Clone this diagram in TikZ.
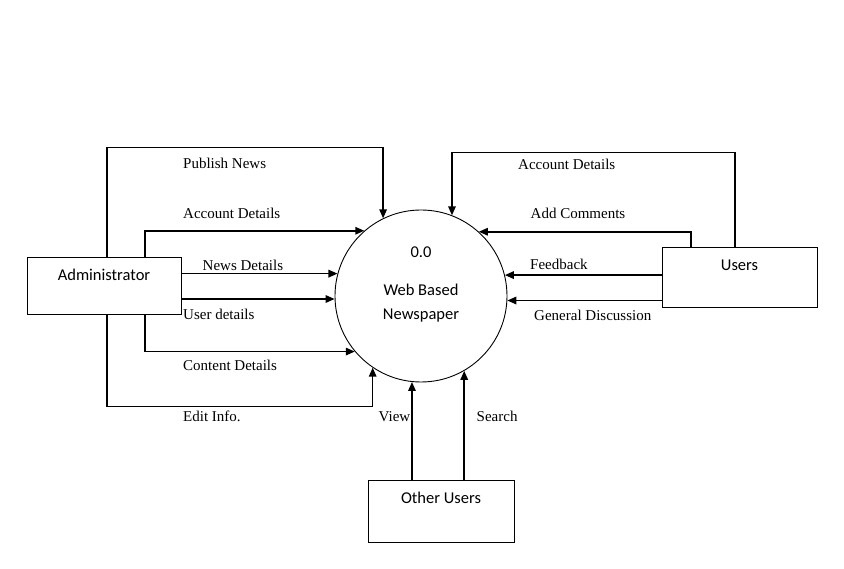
\documentclass[tikz,border=0pt]{standalone}
\usepackage{fontspec}
\setmainfont{Liberation Serif}
\newfontfamily\carlito{Carlito}
\usetikzlibrary{arrows.meta}
\tikzset{
  entity/.style={draw, line width=0.9pt, inner sep=0pt, align=center,
    font=\carlito\fontsize{16.5}{20}\selectfont},
  procbubble/.style={draw, circle, line width=0.9pt, inner sep=0pt, minimum size=172pt,
    align=center, font=\carlito\fontsize{16.5}{24}\selectfont},
  flow/.style={line width=1.6pt, -{Triangle[length=9pt,width=7.5pt]}},
  flowlabel/.style={anchor=base west, inner sep=0pt, font=\fontsize{15}{18}\selectfont},
}
\begin{document}
\begin{tikzpicture}[x=1pt,y=-1pt]
\useasboundingbox (0,0) rectangle (844,569);
% entities
\node[entity, minimum width=154pt, minimum height=57pt, text depth=22pt] (admin) at (104,285.5) {Administrator};
\node[entity, minimum width=155pt, minimum height=60pt, text depth=24pt] (users) at (739.5,277) {Users};
\node[entity, minimum width=146pt, minimum height=62pt, text depth=26pt] (other) at (441,511) {Other Users};
% process
\node[procbubble, text depth=25pt] (p) at (421,296) {0.0\\[14pt]Web Based\\Newspaper};
% administrator flows
\draw[flow] ([xshift=3pt]admin.north) -- ++(0,-109) -| (p.116.2);
\draw[flow] ([xshift=41pt]admin.north) |- (p.131.9);
\draw[flow] (admin.east |- p.165.2) -- (p.165.2);
\draw[flow] (admin.east |- p.182.7) -- (p.182.7);
\draw[flow] ([xshift=41pt]admin.south) |- (p.220.6);
\draw[flow] ([xshift=3pt]admin.south) -- ++(0,92) -| (p.236.1);
% users flows
\draw[flow] ([xshift=-4.5pt]users.north) -- ++(0,-94) -| (p.69.6);
\draw[flow] ([xshift=-48.5pt]users.north) |- (p.48.1);
\draw[flow] (users.west |- p.14.8) -- (p.14.8);
\draw[flow] (users.west |- p.357.3) -- (p.357.3);
% other users flows
\draw[flow] (other.north -| p.264) -- (p.264);
\draw[flow] (other.north -| p.300.8) -- (p.300.8);
% labels
\node[flowlabel] (lpub) at (183,169) {Publish News};
\node[flowlabel] (lacc) at (183,219) {Account Details};
\node[flowlabel] (lnews) at (202.5,270.5) {News Details};
\node[flowlabel] (luser) at (183,320) {User details};
\node[flowlabel] (lcont) at (183,370.5) {Content Details};
\node[flowlabel] (ledit) at (183,421) {Edit Info.};
\node[flowlabel] (luacc) at (518,169.5) {Account Details};
\node[flowlabel] (ladd) at (530.5,219) {Add Comments};
\node[flowlabel] (lfeed) at (530,270) {Feedback};
\node[flowlabel] (lgen) at (534,320.5) {General Discussion};
\node[flowlabel] (lview) at (378.5,421) {View};
\node[flowlabel] (lsearch) at (476.5,421) {Search};
\end{tikzpicture}
\end{document}
